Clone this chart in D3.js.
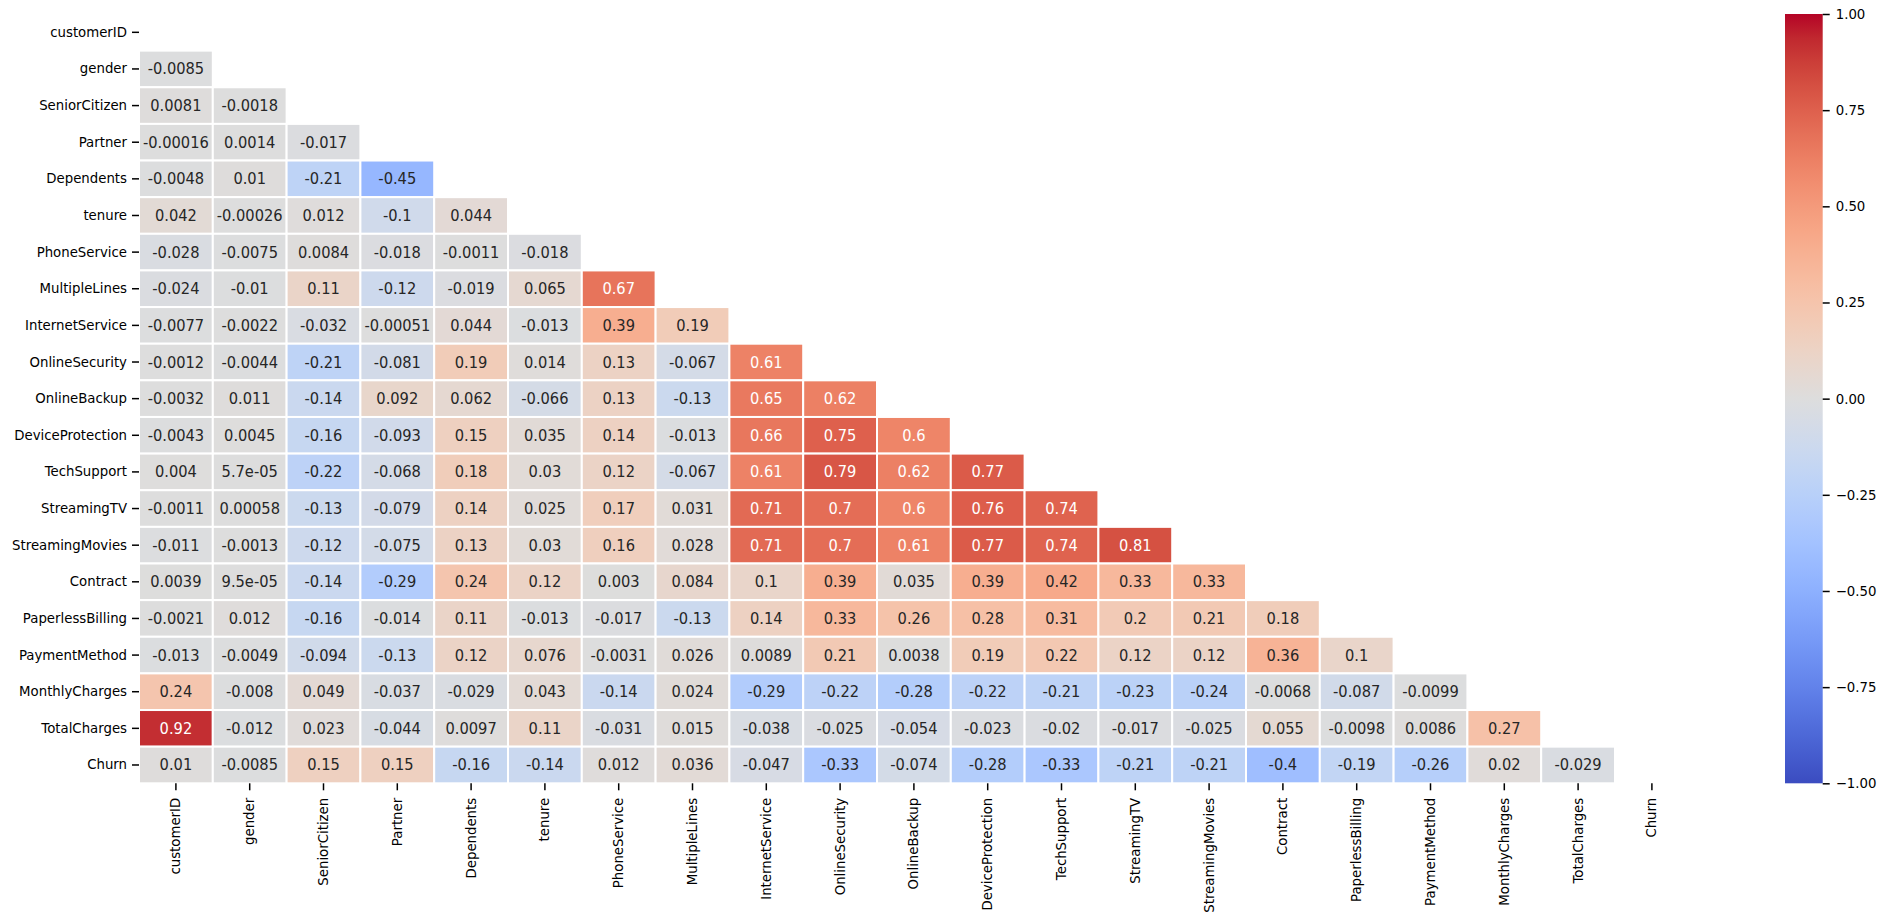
<!DOCTYPE html>
<html>
<head>
<meta charset="utf-8">
<script src="https://cdn.jsdelivr.net/npm/d3@7"></script>
<style>
  body { margin: 0; background: #fff; }
  text { font-family: "DejaVu Sans", sans-serif; }
  .annot { font-family: "DejaVu Sans Condensed", "DejaVu Sans", sans-serif; font-stretch: condensed; }
</style>
</head>
<body>
<div id="chart"></div>
<script>
// Column / row names of the correlation matrix
var labels = ["customerID", "gender", "SeniorCitizen", "Partner", "Dependents", "tenure",
  "PhoneService", "MultipleLines", "InternetService", "OnlineSecurity", "OnlineBackup",
  "DeviceProtection", "TechSupport", "StreamingTV", "StreamingMovies", "Contract",
  "PaperlessBilling", "PaymentMethod", "MonthlyCharges", "TotalCharges", "Churn"];

// Lower triangle, one array per row (values for columns 0..row-1)
var row_customerID = [];
var row_gender = [-0.0085];
var row_seniorCitizen = [0.0081, -0.0018];
var row_partner = [-0.00016, 0.0014, -0.017];
var row_dependents = [-0.0048, 0.01, -0.21, -0.45];
var row_tenure = [0.042, -0.00026, 0.012, -0.1, 0.044];
var row_phoneService = [-0.028, -0.0075, 0.0084, -0.018, -0.0011, -0.018];
var row_multipleLines = [-0.024, -0.01, 0.11, -0.12, -0.019, 0.065, 0.67];
var row_internetService = [-0.0077, -0.0022, -0.032, -0.00051, 0.044, -0.013, 0.39, 0.19];
var row_onlineSecurity = [-0.0012, -0.0044, -0.21, -0.081, 0.19, 0.014, 0.13, -0.067, 0.61];
var row_onlineBackup = [-0.0032, 0.011, -0.14, 0.092, 0.062, -0.066, 0.13, -0.13, 0.65, 0.62];
var row_deviceProtection = [-0.0043, 0.0045, -0.16, -0.093, 0.15, 0.035, 0.14, -0.013, 0.66, 0.75, 0.6];
var row_techSupport = [0.004, 5.7e-05, -0.22, -0.068, 0.18, 0.03, 0.12, -0.067, 0.61, 0.79, 0.62, 0.77];
var row_streamingTV = [-0.0011, 0.00058, -0.13, -0.079, 0.14, 0.025, 0.17, 0.031, 0.71, 0.7, 0.6, 0.76, 0.74];
var row_streamingMovies = [-0.011, -0.0013, -0.12, -0.075, 0.13, 0.03, 0.16, 0.028, 0.71, 0.7, 0.61, 0.77, 0.74, 0.81];
var row_contract = [0.0039, 9.5e-05, -0.14, -0.29, 0.24, 0.12, 0.003, 0.084, 0.1, 0.39, 0.035, 0.39, 0.42, 0.33, 0.33];
var row_paperlessBilling = [-0.0021, 0.012, -0.16, -0.014, 0.11, -0.013, -0.017, -0.13, 0.14, 0.33, 0.26, 0.28, 0.31, 0.2, 0.21, 0.18];
var row_paymentMethod = [-0.013, -0.0049, -0.094, -0.13, 0.12, 0.076, -0.0031, 0.026, 0.0089, 0.21, 0.0038, 0.19, 0.22, 0.12, 0.12, 0.36, 0.1];
var row_monthlyCharges = [0.24, -0.008, 0.049, -0.037, -0.029, 0.043, -0.14, 0.024, -0.29, -0.22, -0.28, -0.22, -0.21, -0.23, -0.24, -0.0068, -0.087, -0.0099];
var row_totalCharges = [0.92, -0.012, 0.023, -0.044, 0.0097, 0.11, -0.031, 0.015, -0.038, -0.025, -0.054, -0.023, -0.02, -0.017, -0.025, 0.055, -0.0098, 0.0086, 0.27];
var row_churn = [0.01, -0.0085, 0.15, 0.15, -0.16, -0.14, 0.012, 0.036, -0.047, -0.33, -0.074, -0.28, -0.33, -0.21, -0.21, -0.4, -0.19, -0.26, 0.02, -0.029];

var rows = [row_customerID, row_gender, row_seniorCitizen, row_partner, row_dependents,
  row_tenure, row_phoneService, row_multipleLines, row_internetService, row_onlineSecurity,
  row_onlineBackup, row_deviceProtection, row_techSupport, row_streamingTV, row_streamingMovies,
  row_contract, row_paperlessBilling, row_paymentMethod, row_monthlyCharges, row_totalCharges, row_churn];

// Colorbar ticks
var cbarTicks = [-1, -0.75, -0.5, -0.25, 0, 0.25, 0.5, 0.75, 1];

// coolwarm colormap stops (Moreland)
var coolwarm = ["#3b4cc0", "#445acc", "#4d68d7", "#5775e1", "#6282ea", "#6c8ef1", "#779af7", "#82a5fb",
  "#8db0fe", "#98b9ff", "#a3c2ff", "#aec9fd", "#b8d0f9", "#c2d5f4", "#ccd9ee", "#d5dbe6",
  "#dddddd", "#e5d8d1", "#ecd3c5", "#f1ccb8", "#f5c4ac", "#f7bb9f", "#f7b193", "#f7a686",
  "#f49a7b", "#f18d6f", "#ec7f63", "#e57058", "#de604d", "#d55042", "#cb3e38", "#c0282f", "#b40426"];

// Flatten into cells
var cells = [];
rows.forEach(function(r, i) {
  r.forEach(function(v, j) { cells.push({row: labels[i], col: labels[j], value: v}); });
});

// Canvas
var svgWidth = 1885, svgHeight = 922;
var hm = {left: 139, top: 14, width: 1549.8, height: 769.3};
var cb = {left: 1785, width: 37.7};

var svg = d3.select("#chart").append("svg")
    .attr("width", svgWidth)
    .attr("height", svgHeight);

var xScale = d3.scaleBand().domain(labels).range([hm.left, hm.left + hm.width]);
var yScale = d3.scaleBand().domain(labels).range([hm.top, hm.top + hm.height]);

var colorScale = d3.scaleLinear()
    .domain(coolwarm.map(function(c, i) { return -1 + 2 * i / (coolwarm.length - 1); }))
    .range(coolwarm)
    .interpolate(d3.interpolateRgb)
    .clamp(true);

// seaborn-like ".2g" formatting
function fmt2g(v) {
  var r = +v.toPrecision(2);
  if (r === 0) return "0";
  var e = Math.floor(Math.log10(Math.abs(r)));
  if (e < -4) {
    var s = v.toExponential(1).replace(/\.0e/, "e");
    return s.replace(/e([+-])(\d)$/, "e$10$2");
  }
  return String(r);
}

function luminance(c) {
  var rgb = d3.rgb(c);
  var ch = [rgb.r, rgb.g, rgb.b].map(function(x) {
    x = x / 255;
    return x <= 0.03928 ? x / 12.92 : Math.pow((x + 0.055) / 1.055, 2.4);
  });
  return 0.2126 * ch[0] + 0.7152 * ch[1] + 0.0722 * ch[2];
}

// Cells
svg.append("g").selectAll("rect")
    .data(cells)
  .enter().append("rect")
    .attr("x", function(d) { return xScale(d.col); })
    .attr("y", function(d) { return yScale(d.row); })
    .attr("width", xScale.bandwidth())
    .attr("height", yScale.bandwidth())
    .attr("fill", function(d) { return colorScale(d.value); })
    .attr("stroke", "#fff")
    .attr("stroke-width", 2);

// Annotations
svg.append("g").selectAll("text")
    .data(cells)
  .enter().append("text")
    .attr("class", "annot")
    .attr("x", function(d) { return xScale(d.col) + xScale.bandwidth() / 2; })
    .attr("y", function(d) { return yScale(d.row) + yScale.bandwidth() / 2; })
    .attr("text-anchor", "middle")
    .attr("dominant-baseline", "central")
    .style("font-size", "16.3px")
    .style("fill", function(d) { return luminance(colorScale(d.value)) > 0.408 ? "#262626" : "#fff"; })
    .text(function(d) { return fmt2g(d.value); });

// Y axis
var yAxis = svg.append("g")
    .attr("transform", "translate(" + hm.left + ",0)")
    .call(d3.axisLeft(yScale).tickSize(7).tickPadding(5));
yAxis.select(".domain").remove();
yAxis.selectAll("line").attr("stroke", "#000").attr("stroke-width", 1.5);
yAxis.selectAll("text")
    .attr("dy", null)
    .attr("dominant-baseline", "central")
    .style("font-size", "13.3px")
    .style("fill", "#000");

// X axis
var xAxis = svg.append("g")
    .attr("transform", "translate(0," + (hm.top + hm.height) + ")")
    .call(d3.axisBottom(xScale).tickSize(7).tickPadding(7));
xAxis.select(".domain").remove();
xAxis.selectAll("line").attr("stroke", "#000").attr("stroke-width", 1.5);
xAxis.selectAll("text")
    .attr("transform", "rotate(-90)")
    .attr("x", -14.5)
    .attr("y", 0)
    .attr("dy", null)
    .attr("dominant-baseline", "central")
    .attr("text-anchor", "end")
    .style("font-size", "13.3px")
    .style("fill", "#000");

// Colorbar
var defs = svg.append("defs");
var grad = defs.append("linearGradient")
    .attr("id", "cbgrad")
    .attr("x1", 0).attr("y1", 1).attr("x2", 0).attr("y2", 0);
grad.selectAll("stop")
    .data(coolwarm)
  .enter().append("stop")
    .attr("offset", function(d, i) { return i / (coolwarm.length - 1); })
    .attr("stop-color", function(d) { return d; });

var cbScale = d3.scaleLinear().domain([-1, 1]).range([hm.top + hm.height, hm.top]);

svg.append("rect")
    .attr("x", cb.left)
    .attr("y", hm.top)
    .attr("width", cb.width)
    .attr("height", hm.height)
    .attr("fill", "url(#cbgrad)");

var cbAxis = svg.append("g")
    .attr("transform", "translate(" + (cb.left + cb.width) + ",0)")
    .call(d3.axisRight(cbScale).tickValues(cbarTicks).tickSize(7).tickPadding(6)
      .tickFormat(function(d) { return d3.format(".2f")(d).replace("-", "\u2212"); }));
cbAxis.select(".domain").remove();
cbAxis.selectAll("line").attr("stroke", "#000").attr("stroke-width", 1.5);
cbAxis.selectAll("text")
    .attr("dy", null)
    .attr("dominant-baseline", "central")
    .style("font-size", "13.3px")
    .style("fill", "#000");
</script>
</body>
</html>
